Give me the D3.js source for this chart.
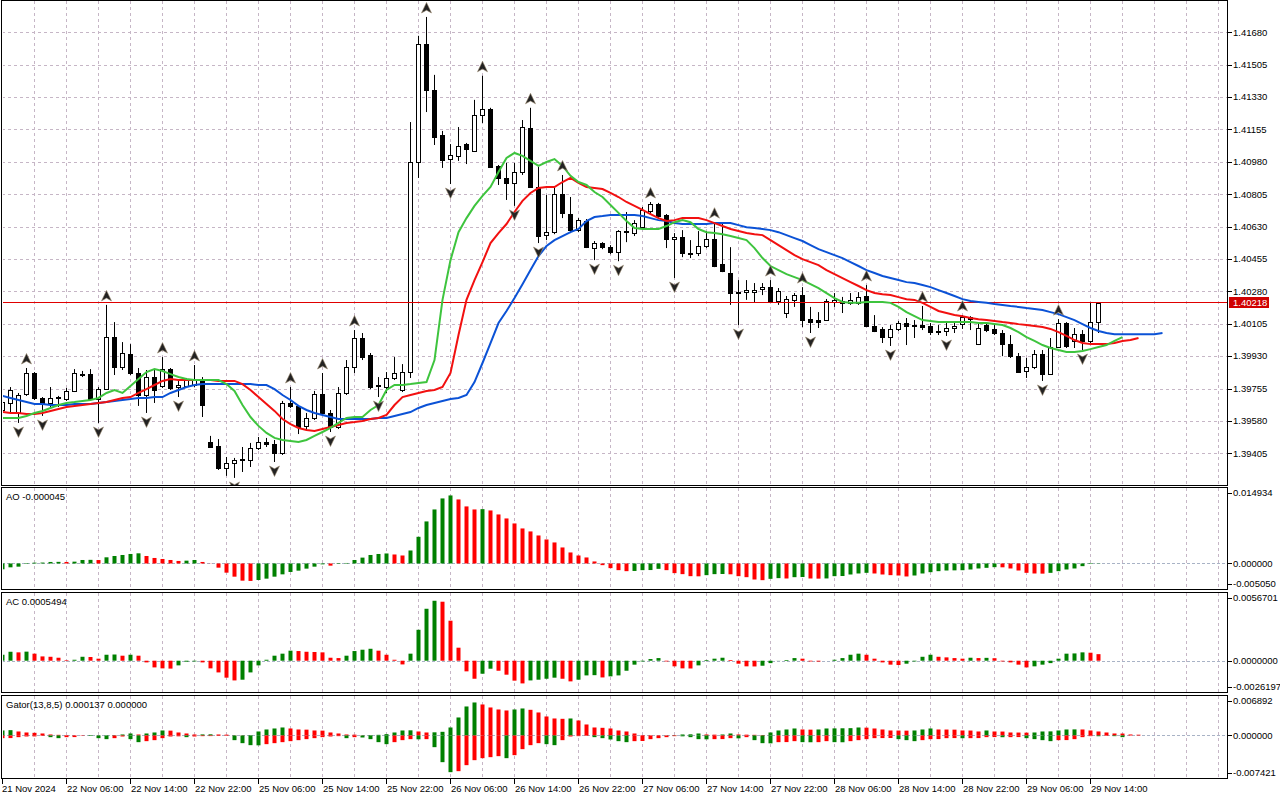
<!DOCTYPE html>
<html>
<head>
<meta charset="utf-8">
<script src="https://cdn.jsdelivr.net/npm/d3@7"></script>
<style>
  body { margin: 0; background: #fff; }
  svg text { font-family: "Liberation Sans", Arial, sans-serif; font-size: 9.5px; fill: #000; }
</style>
</head>
<body>
<div id="chart"></div>
<script>
// H1 bars, 21 Nov 22:00 .. 29 Nov 15:00
const opens = [
1.39639,1.39677,1.39623,1.39725,1.39839,1.39704,1.39677,1.39704,1.39698,1.39742,
1.39833,1.39833,1.39698,1.39752,1.40033,1.39871,1.39941,1.39839,1.39720,1.39817,
1.39769,1.39860,1.39763,1.39769,1.39774,1.39801,1.39466,1.39445,1.39326,1.39353,
1.39374,1.39369,1.39434,1.39466,1.39455,1.39407,1.39677,1.39661,1.39553,1.39596,
1.39725,1.39623,1.39547,1.39731,1.39871,1.40028,1.39936,1.39769,1.39763,1.39812,
1.39747,1.39844,1.40979,1.41617,1.41369,1.41125,1.40995,1.41012,1.41076,1.41039,
1.41233,1.41266,1.40958,1.40893,1.40866,1.40925,1.41163,1.40844,1.40584,1.40600,
1.40806,1.40698,1.40611,1.40660,1.40514,1.40541,1.40519,1.40492,1.40606,1.40595,
1.40627,1.40715,1.40752,1.40693,1.40563,1.40573,1.40487,1.40487,1.40525,1.40563,
1.40427,1.40379,1.40271,1.40276,1.40276,1.40292,1.40303,1.40228,1.40163,1.40234,
1.40260,1.40130,1.40125,1.40125,1.40223,1.40228,1.40218,1.40218,1.40255,1.40093,
1.40077,1.40033,1.40077,1.40109,1.40098,1.40098,1.40093,1.40066,1.40066,1.40082,
1.40104,1.40141,1.39995,1.40098,1.40077,1.40055,1.39995,1.39930,1.39850,1.39871,
1.39941,1.39833,1.39979,1.40109,1.40012,1.40050,1.40012,1.40114];
const highs = [
1.39715,1.39763,1.39731,1.39866,1.39844,1.39709,1.39763,1.39715,1.39758,1.39860,
1.39850,1.39860,1.39763,1.40207,1.40114,1.40006,1.39995,1.39866,1.39855,1.39855,
1.39925,1.39866,1.39801,1.39812,1.39882,1.39817,1.39499,1.39482,1.39385,1.39380,
1.39439,1.39461,1.39493,1.39488,1.39477,1.39688,1.39763,1.39666,1.39623,1.39742,
1.39839,1.39639,1.39763,1.39909,1.40071,1.40055,1.39947,1.39817,1.39844,1.39925,
1.39887,1.41195,1.41661,1.41763,1.41450,1.41147,1.41076,1.41168,1.41082,1.41315,
1.41445,1.41272,1.40963,1.40974,1.40974,1.41206,1.41272,1.40952,1.40801,1.40839,
1.40909,1.40790,1.40676,1.40671,1.40552,1.40546,1.40530,1.40611,1.40709,1.40665,
1.40736,1.40763,1.40758,1.40698,1.40595,1.40611,1.40557,1.40606,1.40606,1.40654,
1.40644,1.40519,1.40341,1.40341,1.40325,1.40325,1.40341,1.40298,1.40255,1.40271,
1.40303,1.40196,1.40168,1.40239,1.40271,1.40250,1.40271,1.40276,1.40314,1.40152,
1.40087,1.40098,1.40120,1.40136,1.40125,1.40201,1.40109,1.40098,1.40109,1.40109,
1.40152,1.40146,1.40114,1.40114,1.40098,1.40071,1.40044,1.39947,1.39920,1.39963,
1.39963,1.40028,1.40130,1.40114,1.40082,1.40071,1.40218,1.40218];
const lows = [
1.39617,1.39623,1.39569,1.39715,1.39693,1.39607,1.39650,1.39655,1.39688,1.39736,
1.39817,1.39693,1.39569,1.39747,1.39828,1.39855,1.39828,1.39661,1.39623,1.39677,
1.39758,1.39747,1.39709,1.39758,1.39763,1.39601,1.39434,1.39315,1.39283,1.39272,
1.39304,1.39331,1.39423,1.39439,1.39358,1.39396,1.39650,1.39509,1.39531,1.39585,
1.39612,1.39520,1.39536,1.39720,1.39839,1.39909,1.39752,1.39709,1.39731,1.39801,
1.39736,1.39812,1.40893,1.41249,1.41071,1.40947,1.40860,1.40985,1.40968,1.41033,
1.41190,1.40947,1.40855,1.40774,1.40742,1.40909,1.40839,1.40541,1.40557,1.40589,
1.40676,1.40595,1.40600,1.40514,1.40449,1.40508,1.40481,1.40443,1.40546,1.40579,
1.40617,1.40698,1.40676,1.40514,1.40352,1.40465,1.40460,1.40471,1.40514,1.40411,
1.40384,1.40207,1.40098,1.40234,1.40218,1.40260,1.40223,1.40207,1.40136,1.40196,
1.40087,1.40055,1.40082,1.40120,1.40196,1.40163,1.40207,1.40207,1.40087,1.40060,
1.40001,1.39985,1.40066,1.39990,1.40028,1.40071,1.40044,1.40044,1.40039,1.40055,
1.40077,1.40071,1.39990,1.40060,1.40044,1.39930,1.39920,1.39839,1.39812,1.39860,
1.39796,1.39828,1.39974,1.39974,1.39974,1.39963,1.40001,1.40055];
const closes = [
1.39682,1.39747,1.39720,1.39839,1.39704,1.39677,1.39704,1.39709,1.39742,1.39839,
1.39835,1.39698,1.39752,1.40033,1.39871,1.39947,1.39839,1.39720,1.39817,1.39747,
1.39860,1.39758,1.39774,1.39801,1.39806,1.39666,1.39439,1.39326,1.39353,1.39369,
1.39376,1.39434,1.39466,1.39455,1.39407,1.39677,1.39661,1.39547,1.39596,1.39725,
1.39623,1.39547,1.39731,1.39871,1.40028,1.39925,1.39763,1.39774,1.39812,1.39839,
1.39844,1.40979,1.41617,1.41369,1.41114,1.40990,1.41017,1.41066,1.41049,1.41233,
1.41266,1.40952,1.40893,1.40866,1.40925,1.41168,1.40844,1.40579,1.40600,1.40806,
1.40704,1.40611,1.40665,1.40519,1.40541,1.40519,1.40492,1.40606,1.40603,1.40649,
1.40720,1.40752,1.40687,1.40563,1.40573,1.40487,1.40489,1.40525,1.40563,1.40417,
1.40390,1.40271,1.40276,1.40287,1.40287,1.40303,1.40228,1.40282,1.40239,1.40260,
1.40125,1.40114,1.40114,1.40228,1.40234,1.40218,1.40234,1.40250,1.40093,1.40066,
1.40033,1.40077,1.40109,1.40093,1.40093,1.40087,1.40060,1.40068,1.40082,1.40093,
1.40141,1.40130,1.40082,1.40071,1.40055,1.39995,1.39930,1.39844,1.39871,1.39941,
1.39833,1.39979,1.40109,1.39985,1.40050,1.40012,1.40114,1.40218];

// Alligator lines (already shifted forward: jaw +8, teeth +5, lips +3)
const jaw = [
1.39715,1.39704,1.39693,1.39682,1.39671,1.39671,1.39666,1.39666,1.39666,1.39671,
1.39671,1.39671,1.39677,1.39682,1.39688,1.39693,1.39698,1.39704,1.39704,1.39709,
1.39709,1.39731,1.39747,1.39763,1.39774,1.39779,1.39779,1.39779,1.39779,1.39779,
1.39779,1.39779,1.39774,1.39774,1.39752,1.39720,1.39693,1.39661,1.39639,1.39623,
1.39612,1.39601,1.39590,1.39590,1.39590,1.39590,1.39590,1.39596,1.39596,1.39607,
1.39617,1.39628,1.39650,1.39666,1.39677,1.39688,1.39698,1.39704,1.39720,1.39790,
1.39893,1.40001,1.40109,1.40174,1.40244,1.40319,1.40395,1.40471,1.40525,1.40557,
1.40579,1.40600,1.40617,1.40660,1.40682,1.40687,1.40693,1.40693,1.40693,1.40693,
1.40687,1.40676,1.40665,1.40660,1.40649,1.40644,1.40644,1.40644,1.40644,1.40649,
1.40649,1.40649,1.40638,1.40627,1.40622,1.40617,1.40611,1.40600,1.40584,1.40568,
1.40552,1.40530,1.40508,1.40492,1.40476,1.40460,1.40438,1.40417,1.40395,1.40379,
1.40363,1.40352,1.40341,1.40330,1.40325,1.40314,1.40303,1.40287,1.40271,1.40255,
1.40238,1.40228,1.40223,1.40218,1.40212,1.40207,1.40201,1.40196,1.40190,1.40185,
1.40179,1.40168,1.40157,1.40141,1.40125,1.40103,1.40082,1.40066,1.40055,1.40049,
1.40049,1.40049,1.40049,1.40049,1.40049,1.40055];
const teeth = [
1.39628,1.39623,1.39623,1.39617,1.39617,1.39623,1.39634,1.39644,1.39655,1.39661,
1.39666,1.39671,1.39677,1.39682,1.39693,1.39704,1.39709,1.39731,1.39752,1.39774,
1.39796,1.39806,1.39801,1.39801,1.39801,1.39801,1.39801,1.39796,1.39796,1.39796,
1.39779,1.39747,1.39709,1.39671,1.39634,1.39590,1.39563,1.39542,1.39531,1.39526,
1.39536,1.39547,1.39558,1.39569,1.39574,1.39580,1.39590,1.39596,1.39612,1.39666,
1.39709,1.39720,1.39731,1.39742,1.39747,1.39763,1.39839,1.40044,1.40234,1.40341,
1.40438,1.40541,1.40595,1.40644,1.40709,1.40769,1.40812,1.40839,1.40844,1.40844,
1.40871,1.40893,1.40866,1.40844,1.40839,1.40833,1.40812,1.40790,1.40763,1.40742,
1.40720,1.40698,1.40676,1.40660,1.40665,1.40676,1.40676,1.40676,1.40665,1.40649,
1.40633,1.40617,1.40606,1.40595,1.40589,1.40584,1.40557,1.40530,1.40503,1.40476,
1.40454,1.40438,1.40422,1.40395,1.40373,1.40352,1.40330,1.40309,1.40287,1.40271,
1.40265,1.40260,1.40249,1.40238,1.40234,1.40218,1.40196,1.40174,1.40163,1.40152,
1.40146,1.40136,1.40130,1.40125,1.40120,1.40114,1.40109,1.40103,1.40098,1.40093,
1.40087,1.40077,1.40060,1.40039,1.40017,1.40001,1.39995,1.39995,1.39995,1.40001,
1.40012,1.40017,1.40028];
const lips = [
1.39596,1.39596,1.39596,1.39607,1.39623,1.39634,1.39650,1.39666,1.39677,1.39682,
1.39688,1.39693,1.39704,1.39731,1.39747,1.39731,1.39769,1.39806,1.39844,1.39860,
1.39850,1.39833,1.39817,1.39806,1.39801,1.39801,1.39801,1.39801,1.39779,1.39742,
1.39666,1.39601,1.39553,1.39515,1.39488,1.39477,1.39472,1.39466,1.39477,1.39499,
1.39520,1.39542,1.39569,1.39596,1.39601,1.39601,1.39639,1.39666,1.39747,1.39774,
1.39774,1.39779,1.39785,1.39790,1.39909,1.40234,1.40449,1.40600,1.40676,1.40742,
1.40796,1.40844,1.40925,1.41001,1.41028,1.41012,1.40985,1.40958,1.40979,1.40995,
1.40958,1.40904,1.40871,1.40855,1.40817,1.40790,1.40747,1.40704,1.40660,1.40622,
1.40617,1.40617,1.40617,1.40633,1.40654,1.40665,1.40654,1.40617,1.40600,1.40595,
1.40589,1.40579,1.40568,1.40557,1.40514,1.40460,1.40417,1.40395,1.40373,1.40357,
1.40341,1.40319,1.40298,1.40271,1.40244,1.40223,1.40218,1.40218,1.40223,1.40223,
1.40223,1.40218,1.40196,1.40168,1.40146,1.40125,1.40120,1.40114,1.40114,1.40114,
1.40114,1.40114,1.40109,1.40109,1.40104,1.40098,1.40082,1.40060,1.40033,1.40012,
1.39990,1.39974,1.39963,1.39952,1.39952,1.39958,1.39968,1.39979,1.39990,1.40012,
1.40033];

const fractalUp = [3,13,20,24,36,40,44,53,60,66,70,81,89,96,100,108,115,120,132];
const fractalDown = [2,5,12,18,22,29,34,41,47,56,64,67,74,77,84,92,101,111,118,130,135];

// Awesome Oscillator
const ao = [
-0.00115,-0.00076,-0.00063,-0.00010,0.00016,0.00018,0.00030,0.00032,0.00030,0.00036,
0.00069,0.00072,0.00068,0.00122,0.00148,0.00168,0.00188,0.00201,0.00148,0.00109,
0.00089,0.00069,0.00050,0.00056,0.00069,0.00030,-0.00003,-0.00083,-0.00182,-0.00261,
-0.00340,-0.00345,-0.00327,-0.00300,-0.00261,-0.00215,-0.00168,-0.00142,-0.00102,-0.00063,
-0.00017,-0.00043,-0.00010,0.00010,0.00069,0.00116,0.00168,0.00188,0.00198,0.00178,
0.00158,0.00257,0.00528,0.00832,0.01069,0.01287,0.01346,0.01267,0.01129,0.01069,
0.01075,0.01049,0.00970,0.00891,0.00792,0.00693,0.00634,0.00554,0.00475,0.00416,
0.00317,0.00218,0.00158,0.00119,0.00040,-0.00033,-0.00092,-0.00132,-0.00152,-0.00148,
-0.00132,-0.00130,-0.00106,-0.00132,-0.00191,-0.00211,-0.00251,-0.00254,-0.00231,-0.00211,
-0.00208,-0.00214,-0.00251,-0.00271,-0.00317,-0.00330,-0.00304,-0.00290,-0.00297,-0.00271,
-0.00268,-0.00297,-0.00300,-0.00296,-0.00251,-0.00248,-0.00218,-0.00198,-0.00185,-0.00198,
-0.00218,-0.00231,-0.00238,-0.00257,-0.00238,-0.00198,-0.00172,-0.00152,-0.00139,-0.00136,
-0.00133,-0.00119,-0.00099,-0.00086,-0.00073,-0.00076,-0.00099,-0.00139,-0.00185,-0.00198,
-0.00201,-0.00185,-0.00152,-0.00119,-0.00099,-0.00053,-0.00010,-0.000045];

// Accelerator Oscillator
const ac = [
0.00050,0.00075,0.00070,0.00076,0.00059,0.00036,0.00033,0.00025,0.00005,0.00008,
0.00033,0.00031,0.00017,0.00050,0.00052,0.00042,0.00050,0.00042,-0.00014,-0.00056,
-0.00064,-0.00066,-0.00039,-0.00008,-0.00006,-0.00014,-0.00064,-0.00098,-0.00142,-0.00165,
-0.00159,-0.00098,-0.00039,0.00008,0.00042,0.00059,0.00084,0.00081,0.00075,0.00073,
0.00070,0.00025,0.00022,0.00042,0.00081,0.00092,0.00100,0.00084,0.00050,0.00008,
-0.00031,0.00059,0.00259,0.00435,0.00502,0.00494,0.00335,0.00109,-0.00089,-0.00151,
-0.00109,-0.00067,-0.00084,-0.00117,-0.00167,-0.00190,-0.00165,-0.00159,-0.00151,-0.00142,
-0.00151,-0.00173,-0.00159,-0.00123,-0.00121,-0.00140,-0.00131,-0.00123,-0.00084,-0.00033,
-0.00006,0.00014,0.00022,-0.00006,-0.00047,-0.00064,-0.00065,-0.00039,0.00006,0.00017,
0.00025,0.00006,-0.00025,-0.00047,-0.00048,-0.00042,-0.00020,-0.00001,0.00006,0.00022,
0.00017,-0.00006,-0.00007,0.00000,0.00008,0.00022,0.00050,0.00059,0.00050,0.00017,
-0.00014,-0.00033,-0.00036,-0.00025,-0.00006,0.00033,0.00050,0.00033,0.00028,0.00022,
0.00017,0.00025,0.00022,0.00024,0.00021,-0.00006,-0.00014,-0.00033,-0.00056,-0.00047,
-0.00033,-0.00020,0.00017,0.00059,0.00061,0.00070,0.00067,0.0005494];

// Gator oscillator, upper |jaw-teeth| and lower -|teeth-lips|
const gatorUp = [
0.000873,0.000931,0.000698,0.000524,0.000466,0.000349,0.000175,0.000116,0.000058,0.000029,
0.000017,0.000029,0.000017,0.000029,0.000058,0.000175,0.000349,0.000175,0.000349,0.000524,
0.000873,0.000844,0.000524,0.000349,0.000175,0.000186,0.000204,0.000175,0.000146,0.000029,
0.000029,0.000058,0.000698,0.001048,0.001222,0.001397,0.001222,0.001048,0.001019,0.000873,
0.000844,0.000524,0.000349,0.000175,0.000146,0.000029,0.000058,0.000116,0.000233,0.000524,
0.000873,0.000902,0.000698,0.000524,0.000553,0.000640,0.001397,0.003143,0.005063,0.005762,
0.005413,0.004889,0.004540,0.004365,0.004540,0.004714,0.004481,0.004016,0.003317,0.002968,
0.002910,0.002968,0.002619,0.001921,0.001397,0.001339,0.001222,0.000873,0.000698,0.000349,
0.000058,0.000029,0.000017,0.000029,0.000047,0.000175,0.000204,0.000349,0.000175,0.000146,
0.000175,0.000349,0.000175,0.000146,0.000116,0.000087,0.000524,0.000873,0.001048,0.001222,
0.001048,0.001019,0.001048,0.001222,0.001240,0.001257,0.001280,0.001397,0.001368,0.001222,
0.001048,0.000873,0.000861,0.000844,0.000873,0.001048,0.001222,0.001048,0.001036,0.001019,
0.000873,0.000861,0.000698,0.000873,0.000698,0.000687,0.000524,0.000512,0.000495,0.000524,
0.000698,0.000716,0.000873,0.001048,0.001065,0.001048,0.000873,0.000698,0.000524,0.000349,
0.000338,0.000175,0.000137];
const gatorDown = [
-0.000466,-0.000454,-0.000291,-0.000175,-0.000163,-0.000058,-0.000291,-0.000466,-0.000291,-0.000279,
-0.000058,-0.000087,-0.000466,-0.000640,-0.000466,-0.000175,-0.000640,-0.001164,-0.000989,-0.000815,
-0.000466,-0.000175,-0.000146,-0.000291,-0.000175,-0.000116,-0.000105,-0.000058,-0.000047,-0.000815,
-0.001339,-0.001688,-0.001717,-0.001513,-0.001339,-0.001164,-0.000989,-0.000815,-0.000640,-0.000466,
-0.000291,-0.000175,-0.000116,-0.000466,-0.000291,-0.000349,-0.000640,-0.001164,-0.001513,-0.001164,
-0.000815,-0.000640,-0.000669,-0.000640,-0.002037,-0.004656,-0.006402,-0.006227,-0.005180,-0.004307,
-0.003958,-0.003783,-0.003608,-0.003958,-0.003434,-0.002386,-0.001688,-0.001339,-0.001513,-0.001688,
-0.000815,-0.000175,-0.000116,-0.000058,-0.000291,-0.000466,-0.000698,-0.000989,-0.001164,-0.000989,
-0.000960,-0.000640,-0.000466,-0.000291,-0.000116,-0.000146,-0.000291,-0.000640,-0.000669,-0.000640,
-0.000629,-0.000466,-0.000495,-0.000291,-0.000815,-0.001339,-0.001368,-0.001164,-0.001152,-0.000989,
-0.001164,-0.001181,-0.001164,-0.000989,-0.001164,-0.001181,-0.000989,-0.000815,-0.000640,-0.000466,
-0.000454,-0.000442,-0.000640,-0.000815,-0.000989,-0.000815,-0.000640,-0.000629,-0.000466,-0.000454,
-0.000477,-0.000466,-0.000454,-0.000291,-0.000279,-0.000303,-0.000291,-0.000279,-0.000466,-0.000640,
-0.000815,-0.000989,-0.000815,-0.000803,-0.000640,-0.000291,-0.000116,-0.000128,-0.000058,-0.000116,
-0.000291];

// axis labels
const priceTicks = [1.39405,1.39580,1.39755,1.39930,1.40105,1.40280,1.40455,1.40630,1.40805,1.40980,1.41155,1.41330,1.41505,1.41680];
const aoRange = [-0.005050, 0.014934];
const acRange = [-0.0026197, 0.0056701];
const gatorRange = [-0.007421, 0.006892];
const timeLabels = ["21 Nov 2024","22 Nov 06:00","22 Nov 14:00","22 Nov 22:00","25 Nov 06:00","25 Nov 14:00",
  "25 Nov 22:00","26 Nov 06:00","26 Nov 14:00","26 Nov 22:00","27 Nov 06:00","27 Nov 14:00","27 Nov 22:00",
  "28 Nov 06:00","28 Nov 14:00","28 Nov 22:00","29 Nov 06:00","29 Nov 14:00"];
const labelEvery = 8;

// ---- layout ----
const width = 1280, height = 800;
const plotLeft = 2, plotRight = 1227;
const GREEN = "#008000", RED = "#ff0000", gridColor = "#c6b6c6", zeroColor = "#a9b3c6";

const svg = d3.select("#chart").append("svg")
    .attr("width", width)
    .attr("height", height)
    .style("display", "block");
const defs = svg.append("defs");

const x = d3.scaleLinear().domain([0, opens.length - 1]).range([2, 2 + 8 * (opens.length - 1)]);
const cx = i => x(i) + 0.5;

// every pane gets a clip and the vertical dashed grid
function makePane(id, top, bottom) {
    defs.append("clipPath").attr("id", "clip-" + id)
        .append("rect")
        .attr("x", plotLeft + 1).attr("y", top)
        .attr("width", plotRight - plotLeft - 1).attr("height", bottom - top + 1);
    const g = svg.append("g").attr("clip-path", "url(#clip-" + id + ")");
    g.selectAll(".vgrid")
        .data(d3.range(4, 156, 4))
        .join("line")
        .attr("class", "vgrid")
        .attr("x1", cx).attr("x2", cx)
        .attr("y1", top).attr("y2", bottom + 1)
        .attr("stroke", gridColor)
        .attr("stroke-dasharray", "3,3");
    return g;
}

function frame(top, bottom) {
    svg.append("rect")
        .attr("x", plotLeft - 0.5).attr("y", top - 0.5)
        .attr("width", plotRight - plotLeft + 1).attr("height", bottom - top + 1)
        .attr("fill", "none").attr("stroke", "#000");
}

function axisLabel(y, txt) {
    svg.append("line")
        .attr("x1", plotRight + 1).attr("x2", plotRight + 5)
        .attr("y1", Math.round(y) + 0.5).attr("y2", Math.round(y) + 0.5)
        .attr("stroke", "#000");
    svg.append("text")
        .attr("x", plotRight + 6).attr("y", y)
        .attr("dy", "0.35em")
        .text(txt);
}

// ---- main price pane ----
const mainTop = 1, mainBottom = 485;
const y = d3.scaleLinear()
    .domain([priceTicks[0], priceTicks[priceTicks.length - 1]])
    .range([453.3, 32.3]);

const main = makePane("main", mainTop, mainBottom);

main.selectAll(".hgrid")
    .data(priceTicks)
    .join("line")
    .attr("class", "hgrid")
    .attr("x1", plotLeft).attr("x2", plotRight)
    .attr("y1", d => Math.round(y(d)) + 0.5).attr("y2", d => Math.round(y(d)) + 0.5)
    .attr("stroke", gridColor)
    .attr("stroke-dasharray", "3,3");

const bars = d3.range(opens.length);

// wicks
main.selectAll(".wick")
    .data(bars)
    .join("line")
    .attr("class", "wick")
    .attr("x1", cx).attr("x2", cx)
    .attr("y1", i => y(highs[i])).attr("y2", i => y(lows[i]))
    .attr("stroke", "#000");

// bodies
main.selectAll(".body")
    .data(bars)
    .join("rect")
    .attr("class", "body")
    .attr("x", i => x(i) - 1.5)
    .attr("width", 4)
    .attr("y", i => Math.round(y(Math.max(opens[i], closes[i]))) + 0.5)
    .attr("height", i => Math.max(1, Math.round(Math.abs(y(opens[i]) - y(closes[i])))))
    .attr("fill", i => closes[i] >= opens[i] ? "#fff" : "#000")
    .attr("stroke", "#000");

// current price line
const lastPrice = closes[closes.length - 1];
main.append("rect")
    .attr("x", plotLeft).attr("width", plotRight - plotLeft)
    .attr("y", Math.round(y(lastPrice)) - 1).attr("height", 1)
    .attr("fill", "#e00000")
    .attr("shape-rendering", "crispEdges");

// alligator
const line = d3.line().x((d, i) => cx(i)).y(d => y(d));
[[jaw, "#0b52d6"], [teeth, "#f21010"], [lips, "#3ec43e"]].forEach(([data, color]) => {
    main.append("path")
        .datum(data)
        .attr("d", line)
        .attr("fill", "none")
        .attr("stroke", color)
        .attr("stroke-width", 2);
});

// fractal arrows
const arrowUp = "M0,-5.5 L5,5 L0,2.2 L-5,5 Z";
const arrowDown = "M0,5.5 L5,-5 L0,-2.2 L-5,-5 Z";
main.selectAll(".fup")
    .data(fractalUp)
    .join("path")
    .attr("class", "fup")
    .attr("d", arrowUp)
    .attr("transform", i => `translate(${cx(i)},${y(highs[i]) - 9})`)
    .attr("fill", "#222")
    .attr("stroke", "#9a8a70")
    .attr("stroke-width", 0.6);
main.selectAll(".fdown")
    .data(fractalDown)
    .join("path")
    .attr("class", "fdown")
    .attr("d", arrowDown)
    .attr("transform", i => `translate(${cx(i)},${y(lows[i]) + 9})`)
    .attr("fill", "#222")
    .attr("stroke", "#9a8a70")
    .attr("stroke-width", 0.6);

frame(mainTop, mainBottom);
priceTicks.forEach(p => axisLabel(y(p), p.toFixed(5)));

// current price tag
const py = y(lastPrice);
svg.append("rect")
    .attr("x", plotRight + 2).attr("y", Math.round(py) - 6)
    .attr("width", 40).attr("height", 11)
    .attr("fill", "#d00000");
svg.append("text")
    .attr("x", plotRight + 6).attr("y", py - 0.5)
    .attr("dy", "0.35em")
    .style("fill", "#fff")
    .text(lastPrice.toFixed(5));

// ---- histogram panes ----
function histPane(id, top, bottom, range, series, title, digits) {
    const g = makePane(id, top, bottom);
    const ys = d3.scaleLinear().domain(range).range([bottom, top]);
    g.append("line")
        .attr("x1", plotLeft).attr("x2", plotRight)
        .attr("y1", Math.round(ys(0)) + 0.5).attr("y2", Math.round(ys(0)) + 0.5)
        .attr("stroke", zeroColor)
        .attr("stroke-dasharray", "3,2");
    series.forEach(s => {
        g.selectAll(null)
            .data(s.values)
            .join("rect")
            .attr("x", (d, i) => x(i) - 1.5)
            .attr("width", 4)
            .attr("y", d => Math.min(ys(d), ys(0)))
            .attr("height", d => Math.abs(ys(d) - ys(0)))
            .attr("fill", (d, i) => {
                if (i === 0) return s.first;
                const prev = s.values[i - 1];
                return (s.lower ? d < prev : d > prev) ? GREEN : RED;
            });
    });
    frame(top, bottom);
    svg.append("text").attr("x", 6).attr("y", top + 9).attr("dy", "0.35em").text(title);
    axisLabel(top + 5, range[1].toFixed(digits));
    axisLabel(ys(0), (0).toFixed(digits));
    axisLabel(bottom - 5, range[0].toFixed(digits));
}

histPane("ao", 488, 589, aoRange, [{values: ao, first: GREEN}],
    "AO " + ao[ao.length - 1].toFixed(6), 6);
histPane("ac", 593, 692, acRange, [{values: ac, first: GREEN}],
    "AC " + ac[ac.length - 1].toFixed(7), 7);
histPane("gator", 696, 778, gatorRange,
    [{values: gatorUp, first: GREEN}, {values: gatorDown, first: RED, lower: true}],
    "Gator(13,8,5) " + gatorUp[gatorUp.length - 1].toFixed(6) + " " + (0).toFixed(6), 6);

// ---- time axis ----
const timeG = svg.append("g");
timeG.selectAll("line")
    .data(timeLabels)
    .join("line")
    .attr("x1", (d, k) => cx(k * labelEvery)).attr("x2", (d, k) => cx(k * labelEvery))
    .attr("y1", 779).attr("y2", 784)
    .attr("stroke", "#000");
timeG.selectAll("text")
    .data(timeLabels)
    .join("text")
    .attr("x", (d, k) => x(k * labelEvery) + (k === 0 ? 0 : 1))
    .attr("y", 792)
    .text(d => d);
</script>
</body>
</html>
